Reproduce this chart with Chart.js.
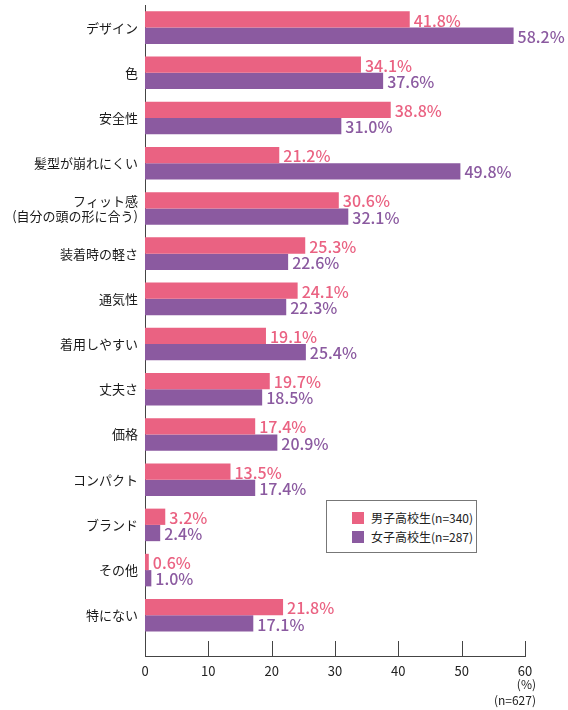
<!DOCTYPE html>
<html lang="ja">
  <head>
    <meta charset="UTF-8" />
    <title>ヘルメットを選ぶ際に重視すること</title>
    <script src="https://cdn.jsdelivr.net/npm/chart.js"></script>
    <style>
      body { margin: 0; background: #fff; }
      #wrap { position: relative; width: 568px; height: 710px; }
      #legend {
        position: absolute; left: 326px; top: 500px; width: 151px; height: 53px;
        border: 1px solid #777; box-sizing: border-box; background: #fff;
        font: 12px "Noto Sans CJK JP", sans-serif; color: #222;
      }
      #legend div { position: absolute; left: 25px; height: 14px; line-height: 14px; white-space: nowrap; }
      #legend span { display: inline-block; width: 12px; height: 12px; margin-right: 7px; vertical-align: -1px; }
    </style>
  </head>
  <body>
    <div id="wrap">
      <canvas id="myChart"></canvas>
      <!-- 凡例 -->
      <div id="legend">
        <div style="top: 10px"><span style="background: #ea6282"></span>男子高校生(n=340)</div>
        <div style="top: 29px"><span style="background: #8b5aa0"></span>女子高校生(n=287)</div>
      </div>
    </div>

    <script>
      // 項目
      const labels = [
        "デザイン",
        "色",
        "安全性",
        "髪型が崩れにくい",
        ["フィット感", "(自分の頭の形に合う)"],
        "装着時の軽さ",
        "通気性",
        "着用しやすい",
        "丈夫さ",
        "価格",
        "コンパクト",
        "ブランド",
        "その他",
        "特にない",
      ];
      // 男子高校生 (%)
      const male = [41.8, 34.1, 38.8, 21.2, 30.6, 25.3, 24.1, 19.1, 19.7, 17.4, 13.5, 3.2, 0.6, 21.8];
      // 女子高校生 (%)
      const female = [58.2, 37.6, 31.0, 49.8, 32.1, 22.6, 22.3, 25.4, 18.5, 20.9, 17.4, 2.4, 1.0, 17.1];
      const xTicks = [0, 10, 20, 30, 40, 50, 60];

      const pink = "#ea6282";
      const purple = "#8b5aa0";
      const axisColor = "#444";
      const font = '"Noto Sans CJK JP", sans-serif';

      // バーの右に数値を表示
      const valueLabels = {
        id: "valueLabels",
        afterDatasetsDraw(chart) {
          const ctx = chart.ctx;
          ctx.save();
          ctx.font = "500 16px " + font;
          ctx.textAlign = "left";
          ctx.textBaseline = "middle";
          chart.data.datasets.forEach((ds, i) => {
            ctx.fillStyle = ds.backgroundColor;
            chart.getDatasetMeta(i).data.forEach((bar, j) => {
              ctx.fillText(ds.data[j].x.toFixed(1) + "%", bar.x + 4, bar.y + 1);
            });
          });
          ctx.restore();
        },
      };

      // X軸の内向き目盛りと単位
      const innerTicks = {
        id: "innerTicks",
        afterDraw(chart) {
          const ctx = chart.ctx;
          const xs = chart.scales.x;
          const bottom = chart.chartArea.bottom;
          ctx.save();
          ctx.strokeStyle = axisColor;
          ctx.lineWidth = 1;
          xTicks.forEach((v) => {
            const px = Math.round(xs.getPixelForValue(v)) + 0.5;
            ctx.beginPath();
            ctx.moveTo(px, bottom - 15);
            ctx.lineTo(px, bottom);
            ctx.stroke();
          });
          const right = xs.getPixelForValue(60) + 11;
          ctx.fillStyle = "#222";
          ctx.font = "12px " + font;
          ctx.textAlign = "right";
          ctx.textBaseline = "middle";
          ctx.fillText("(%)", right, 684);
          ctx.fillText("(n=627)", right, 700);
          ctx.restore();
        },
      };

      const ctx = document.getElementById("myChart").getContext("2d");
      const chart = new Chart(ctx, {
        type: "bar",
        data: {
          datasets: [
            {
              label: "男子高校生(n=340)",
              data: male.map((v, i) => ({ x: v, y: i })),
              backgroundColor: pink,
            },
            {
              label: "女子高校生(n=287)",
              data: female.map((v, i) => ({ x: v, y: i })),
              backgroundColor: purple,
            },
          ],
        },
        plugins: [valueLabels, innerTicks],
        options: {
          indexAxis: "y",
          responsive: true,
          maintainAspectRatio: false,
          animation: false,
          categoryPercentage: 0.72,
          barPercentage: 1,
          layout: { padding: { top: 5, right: 43, bottom: 0, left: 0 } },
          plugins: {
            legend: { display: false },
            tooltip: { enabled: false },
          },
          scales: {
            x: {
              min: 0,
              max: 60,
              grid: { display: false, drawTicks: false },
              border: { display: true, color: axisColor },
              ticks: {
                stepSize: 10,
                padding: 7,
                color: "#222",
                font: { family: font, size: 13 },
              },
              afterFit(scale) {
                scale.height = 54;
              },
            },
            y: {
              type: "linear",
              reverse: true,
              offset: false,
              bounds: "data",
              min: -0.5,
              max: 13.9,
              grid: { display: false, drawTicks: false, offset: false },
              border: { display: true, color: axisColor },
              afterDataLimits(scale) {
                scale.min = -0.5;
                scale.max = 13.9;
              },
              afterBuildTicks(scale) {
                scale.ticks = labels.map((_, i) => ({ value: i }));
              },
              ticks: {
                autoSkip: false,
                padding: 7,
                color: "#1a1a1a",
                font: { family: font, size: 13, lineHeight: 1.1 },
                callback: (v) => labels[v],
              },
              afterFit(scale) {
                scale.width = 145;
                scale.paddingTop = 0;
                scale.paddingBottom = 0;
              },
            },
          },
        },
      });
    </script>
  </body>
</html>
